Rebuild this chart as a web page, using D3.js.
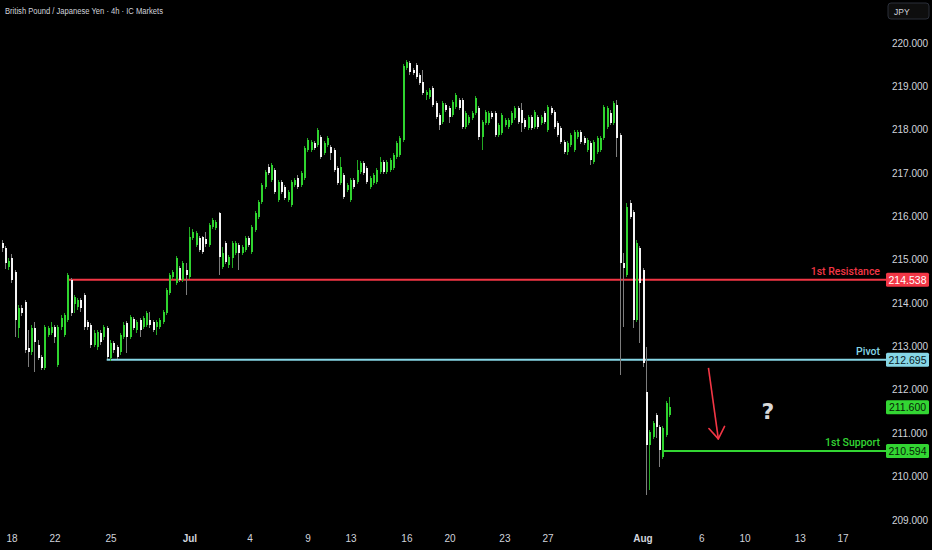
<!DOCTYPE html>
<html><head><meta charset="utf-8">
<script src="https://cdn.jsdelivr.net/npm/d3@7"></script>
<style>html,body{margin:0;padding:0;background:#000;}svg{display:block;}</style>
</head><body><svg id="c" width="932" height="550"></svg>
<script>
// GBP/JPY 4h candles
const opens=[
215.39,215.27,214.83,215.04,214.72,213.43,213.89,214.03,212.97,212.87,
213.43,213.03,212.76,212.50,213.26,213.31,213.45,212.57,213.45,213.26,
213.61,214.53,213.98,213.91,214.07,214.19,213.57,213.50,213.03,212.99,
213.31,213.22,213.43,212.73,213.08,212.99,212.87,213.22,213.54,213.22,
213.63,213.38,213.61,213.45,213.50,213.61,213.57,213.45,213.45,213.57,
213.77,214.23,214.60,214.46,214.81,214.53,214.76,214.60,215.50,215.34,
215.50,215.52,215.48,215.34,215.76,215.73,216.08,214.83,215.39,214.88,
215.04,215.16,215.34,215.16,215.23,215.50,215.18,215.69,215.99,216.33,
216.68,217.14,216.84,217.07,216.38,216.79,216.68,216.38,216.26,216.72,
216.89,216.72,216.89,217.53,217.53,217.69,217.65,217.83,217.46,217.65,
217.60,217.53,217.12,216.77,216.95,216.61,216.38,216.84,216.79,217.02,
217.23,217.12,216.68,216.77,216.79,217.02,217.25,217.02,217.07,217.12,
217.37,217.42,217.76,219.42,219.54,219.38,219.49,219.26,219.10,218.80,
218.75,218.96,218.62,218.34,218.18,218.57,218.50,218.34,218.52,218.68,
218.68,218.06,218.15,218.27,218.38,218.50,217.83,218.15,218.15,218.38,
218.38,217.88,217.92,218.11,218.06,218.15,218.27,218.50,218.45,218.22,
218.04,218.29,218.06,218.29,218.15,218.38,217.99,218.50,218.41,218.15,
218.04,217.72,217.49,217.65,217.53,217.83,217.95,217.81,217.53,217.69,
217.25,217.49,217.53,217.81,218.06,218.38,218.15,218.57,217.88,214.93,
214.65,216.31,216.10,213.61,215.27,214.76,211.95,210.73,210.91,211.42,
211.14,210.45,210.96,211.42];
const highs=[
215.45,215.32,215.04,215.13,214.76,213.96,213.96,214.07,213.38,213.50,
213.57,213.15,212.80,213.50,213.47,213.57,213.50,213.50,213.73,213.77,
214.69,214.58,214.19,214.12,214.12,214.23,213.61,213.54,213.38,213.38,
213.38,213.50,213.47,213.15,213.13,213.03,213.31,213.57,213.59,213.73,
213.68,213.61,213.66,213.70,213.82,213.80,213.61,213.61,213.66,213.84,
214.35,214.69,214.76,215.09,214.86,214.97,214.93,215.76,215.71,215.66,
215.55,215.55,215.64,215.85,215.96,215.92,216.10,215.29,215.43,215.11,
215.43,215.43,215.39,215.34,215.55,215.55,215.80,216.12,216.38,216.77,
217.07,217.21,217.23,217.12,216.84,216.84,216.72,216.61,216.84,216.89,
216.95,217.05,217.62,217.81,217.76,217.74,218.04,217.88,217.74,217.85,
217.65,217.58,217.16,217.37,217.00,216.77,216.89,216.89,217.30,217.28,
217.28,217.16,216.93,217.00,217.12,217.37,217.30,217.30,217.35,217.46,
217.74,217.85,219.51,219.61,219.58,219.42,219.54,219.31,219.38,218.91,
218.96,219.01,218.66,218.38,218.66,218.62,218.55,218.68,218.85,218.73,
218.73,218.43,218.34,218.43,218.78,218.55,218.22,218.45,218.43,218.43,
218.43,218.15,218.38,218.27,218.27,218.43,218.55,218.55,218.62,218.27,
218.34,218.34,218.45,218.34,218.34,218.43,218.57,218.55,218.45,218.20,
218.08,217.76,217.74,217.92,217.99,217.99,217.99,217.85,217.81,217.74,
217.76,217.85,217.85,218.57,218.55,218.45,218.66,218.68,217.92,215.16,
216.31,216.38,216.15,215.45,215.32,214.81,212.99,211.07,211.28,211.47,
211.19,211.17,211.74,211.84];
const lows=[
215.18,214.79,214.76,214.46,213.22,213.20,213.70,212.85,212.53,212.80,
212.41,212.69,212.46,212.46,213.22,213.26,213.08,212.53,213.38,213.22,
213.57,213.70,213.77,213.84,213.80,213.38,213.38,212.97,212.99,212.92,
213.03,213.15,212.71,212.67,212.85,212.71,212.80,213.17,212.85,213.17,
213.38,213.31,213.22,213.40,213.45,213.43,213.33,213.26,213.40,213.52,
213.73,214.19,214.56,214.42,214.49,214.49,214.19,214.56,215.45,215.29,
215.18,215.13,215.29,215.29,215.71,215.69,214.65,214.79,214.90,214.81,
214.81,215.11,214.76,215.11,215.18,215.29,215.13,215.64,215.94,216.29,
216.63,216.95,216.79,216.52,216.33,216.52,216.38,216.33,216.22,216.68,
216.63,216.68,216.84,217.49,217.49,217.53,217.60,217.32,217.42,217.60,
217.30,217.02,216.72,216.72,216.40,216.56,216.33,216.63,216.75,216.98,
216.95,216.75,216.63,216.72,216.75,216.98,216.98,216.98,217.02,217.07,
217.32,217.37,217.72,219.38,219.26,219.26,219.17,219.03,218.80,218.68,
218.71,218.52,218.25,217.99,218.13,218.41,218.15,218.29,218.48,218.45,
218.02,218.02,218.11,218.22,218.34,217.76,217.53,218.11,218.11,218.25,
217.83,217.83,217.88,218.06,218.02,218.11,218.22,218.13,217.95,218.02,
217.99,217.99,218.02,218.02,218.11,218.13,217.95,218.34,218.02,217.83,
217.67,217.44,217.42,217.60,217.49,217.78,217.67,217.65,217.49,217.19,
217.21,217.44,217.49,217.76,218.02,218.11,218.11,217.37,212.34,213.45,
214.60,215.94,213.43,213.57,213.08,212.53,209.58,209.69,210.87,210.89,
210.22,210.41,210.91,211.38];
const closes=[
215.27,214.93,214.97,214.53,213.61,213.89,213.77,212.92,212.87,213.43,
213.10,212.73,212.50,213.45,213.43,213.45,213.22,213.45,213.66,213.73,
214.65,213.77,214.14,214.07,213.89,213.45,213.45,213.03,213.31,213.33,
213.10,213.45,212.76,213.08,212.92,212.76,213.26,213.50,213.22,213.68,
213.43,213.57,213.38,213.66,213.77,213.50,213.38,213.57,213.61,213.80,
214.30,214.65,214.72,215.04,214.53,214.93,214.65,215.52,215.64,215.62,
215.23,215.18,215.36,215.80,215.92,215.87,215.06,215.16,214.95,215.06,
215.39,215.39,215.16,215.29,215.50,215.34,215.76,216.08,216.33,216.72,
217.02,217.00,217.19,216.56,216.79,216.56,216.42,216.56,216.79,216.84,
216.68,217.00,217.58,217.76,217.72,217.58,217.99,217.37,217.69,217.81,
217.46,217.07,216.77,217.14,216.45,216.72,216.84,216.68,217.07,217.23,
217.00,216.79,216.89,216.95,217.07,217.25,217.02,217.25,217.30,217.42,
217.69,217.81,219.47,219.56,219.33,219.31,219.21,219.08,218.85,218.87,
218.91,218.57,218.29,218.11,218.62,218.45,218.29,218.64,218.80,218.50,
218.06,218.38,218.29,218.38,218.73,217.83,218.18,218.41,218.38,218.29,
217.88,218.11,218.34,218.22,218.22,218.38,218.50,218.18,218.15,218.06,
218.29,218.04,218.41,218.06,218.29,218.18,218.52,218.38,218.06,217.88,
217.72,217.49,217.69,217.88,217.95,217.95,217.72,217.69,217.76,217.30,
217.72,217.81,217.81,218.52,218.50,218.15,218.62,217.81,214.93,214.81,
216.22,215.99,213.61,215.39,214.46,212.62,210.73,211.03,211.24,211.14,
210.61,211.12,211.70,211.60];

const priceTicks=[209,210,211,212,213,214,215,216,217,218,219,220];
const dateTickIdx=[3.2,16.3,33.3,57.3,75.6,93.2,106.3,123.3,136.4,153.1,166.2,195.1,213.0,226.1,242.9,255.9];
const dateTickLabels=["18","22","25","Jul","4","9","13","16","20","23","27","Aug","6","10","13","17"];
const monthLabels=["Jul","Aug"];

const levelNames=["1st Resistance","Pivot","1st Support"];
const levelValues=[214.538,212.695,210.594];
const levelStartBar=[20,32,201];
const levelColors=["#f23645","#86d6e6","#33d633"];
const levelBoxText=["#ffffff","#0b1a1e","#072207"];

const title="British Pound / Japanese Yen · 4h · IC Markets";
const currency="JPY";
// arrow annotation (bar index, price)
const arrowFrom=[215.0,212.51];
const arrowTo=[218.0,210.87];
const questionAt=[233.1,211.33];

const n=Math.min(opens.length,highs.length,lows.length,closes.length);
const svg=d3.select("#c");
svg.append("rect").attr("width",932).attr("height",550).attr("fill","#000");

const x=d3.scaleLinear().domain([0,203]).range([1.5,669]);
const y=d3.scaleLinear().domain([209,220]).range([520,43]);
const axisX=886;
const UP="#2fd42f", UPW="#22a822", DN="#f4f4f4", DNW="#7d7d7d";
const txt="#d1d4dc";

// levels lines
levelValues.forEach((v,i)=>{
  svg.append("line").attr("x1",x(levelStartBar[i])).attr("x2",axisX)
    .attr("y1",y(v)).attr("y2",y(v)).attr("stroke",levelColors[i]).attr("stroke-width",2);
  svg.append("text").attr("x",880).attr("y",y(v)-4.5).attr("text-anchor","end")
    .attr("font-family","Roboto, Liberation Sans, sans-serif").attr("font-size",10.5)
    .attr("font-weight",500).attr("fill",levelColors[i]).text(levelNames[i]);
});

// candles
const data=d3.range(n).map(i=>({i,o:opens[i],h:highs[i],l:lows[i],c:closes[i]}));
const g=svg.append("g").attr("shape-rendering","crispEdges");
g.selectAll("line.w").data(data).enter().append("line")
  .attr("x1",d=>Math.round(x(d.i))+0.5).attr("x2",d=>Math.round(x(d.i))+0.5)
  .attr("y1",d=>y(d.h)).attr("y2",d=>y(d.l))
  .attr("stroke",d=>d.c>=d.o?UPW:DNW).attr("stroke-width",1);
g.selectAll("rect.b").data(data).enter().append("rect")
  .attr("x",d=>Math.round(x(d.i))-0.5).attr("width",2)
  .attr("y",d=>y(Math.max(d.o,d.c)))
  .attr("height",d=>Math.max(1,Math.abs(y(d.o)-y(d.c))))
  .attr("fill",d=>d.c>=d.o?UP:DN);

// arrow
const ax1=x(arrowFrom[0]),ay1=y(arrowFrom[1]),ax2=x(arrowTo[0]),ay2=y(arrowTo[1]);
svg.append("line").attr("x1",ax1).attr("y1",ay1).attr("x2",ax2).attr("y2",ay2)
  .attr("stroke","#f23645").attr("stroke-width",1.6);
const ang=Math.atan2(ay2-ay1,ax2-ax1);
[ -0.6, 0.6 ].forEach(a=>{
  svg.append("line").attr("x1",ax2).attr("y1",ay2)
    .attr("x2",ax2-14*Math.cos(ang+a)).attr("y2",ay2-14*Math.sin(ang+a))
    .attr("stroke","#f23645").attr("stroke-width",1.6).attr("stroke-linecap","round");
});
svg.append("text").attr("x",x(questionAt[0])).attr("y",y(questionAt[1]))
  .attr("text-anchor","middle").attr("font-family","DejaVu Sans, sans-serif")
  .attr("font-weight","bold").attr("font-size",22).attr("fill","#d8d8d8").text("?");

// price axis labels
svg.selectAll("text.p").data(priceTicks).enter().append("text")
  .attr("x",892).attr("y",d=>y(d)).attr("dy","0.35em")
  .attr("font-family","Liberation Sans, Arial, sans-serif").attr("font-size",10)
  .attr("fill",txt).text(d=>d.toFixed(3));

// level boxes + current price
function priceBox(v,fill,tc){
  svg.append("rect").attr("x",886).attr("y",y(v)-7).attr("width",43).attr("height",14)
    .attr("rx",1.5).attr("fill",fill);
  svg.append("text").attr("x",907.5).attr("y",y(v)).attr("dy","0.36em").attr("text-anchor","middle")
    .attr("font-family","Liberation Sans, Arial, sans-serif").attr("font-size",10.5)
    .attr("fill",tc).text(v.toFixed(3));
}
levelValues.forEach((v,i)=>priceBox(v,levelColors[i],levelBoxText[i]));
priceBox(closes[n-1],"#33d633","#072207");

// time axis labels
svg.selectAll("text.t").data(dateTickIdx).enter().append("text")
  .attr("x",d=>x(d)).attr("y",542).attr("text-anchor","middle")
  .attr("font-family","Liberation Sans, Arial, sans-serif").attr("font-size",10)
  .attr("font-weight",(d,i)=>monthLabels.includes(dateTickLabels[i])?"bold":"normal")
  .attr("fill",txt).text((d,i)=>dateTickLabels[i]);

// title
svg.append("text").attr("x",5).attr("y",13.5)
  .attr("font-family","Liberation Sans, Arial, sans-serif").attr("font-size",8.5)
  .attr("fill",txt).attr("textLength",158).attr("lengthAdjust","spacingAndGlyphs").text(title);

// currency box
svg.append("rect").attr("x",888).attr("y",3).attr("width",41).attr("height",16).attr("rx",3)
  .attr("fill","#0e0e0e").attr("stroke","#2a2e39");
svg.append("text").attr("x",894).attr("y",14.5)
  .attr("font-family","Liberation Sans, Arial, sans-serif").attr("font-size",8.5)
  .attr("fill",txt).text(currency);
</script></body></html>
